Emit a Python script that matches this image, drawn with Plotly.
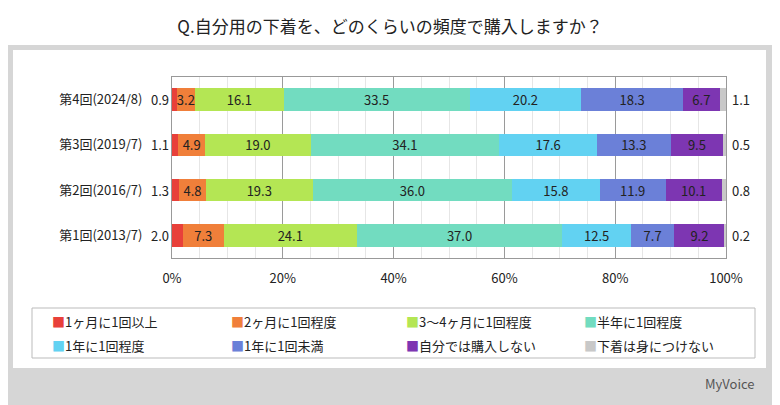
import plotly.graph_objects as go

rounds = ["第1回(2013/7)", "第2回(2016/7)", "第3回(2019/7)", "第4回(2024/8)"]
cats = ["1ヶ月に1回以上", "2ヶ月に1回程度", "3～4ヶ月に1回程度", "半年に1回程度",
        "1年に1回程度", "1年に1回未満", "自分では購入しない", "下着は身につけない"]
vals = [
    [2.0, 1.3, 1.1, 0.9],
    [7.3, 4.8, 4.9, 3.2],
    [24.1, 19.3, 19.0, 16.1],
    [37.0, 36.0, 34.1, 33.5],
    [12.5, 15.8, 17.6, 20.2],
    [7.7, 11.9, 13.3, 18.3],
    [9.2, 10.1, 9.5, 6.7],
    [0.2, 0.8, 0.5, 1.1],
]
colors = ["#e8403a", "#f07f3a", "#b4e654", "#72dcc0", "#62d2f2", "#6b80d8", "#7d36b2", "#c8c8c8"]

OFF = 8  # page body margin
W, H = 780, 405
L, T = 172 - OFF, 77 - OFF
R = W - (726 - OFF)
B = H - (258 - OFF)
PW, PH = W - L - R, H - T - B
def px(p): return (p - OFF - L) / PW
def py(q): return (H - B - (q - OFF)) / PH

fig = go.Figure()
for i, (c, v, col) in enumerate(zip(cats, vals, colors)):
    inside = 0 < i < 7
    fig.add_trace(go.Bar(
        y=rounds, x=v, name=c, orientation="h", marker=dict(color=col, line=dict(width=0)),
        text=[f"{x:.1f}" for x in v] if inside else None,
        textposition="inside", insidetextanchor="middle", textangle=0,
        textfont=dict(color="#222", size=13), constraintext="none",
        hoverinfo="skip", showlegend=False,
    ))
for r, x in zip(rounds, vals[0]):
    fig.add_annotation(x=0, y=r, text=f"{x:.1f}", xanchor="right", showarrow=False,
                       xshift=-1, font=dict(size=13, color="#222"))
for r, x in zip(rounds, vals[7]):
    fig.add_annotation(x=100, y=r, text=f"{x:.1f}", xanchor="left", showarrow=False,
                       xshift=4, font=dict(size=13, color="#222"))

lx = [50, 229, 404, 582]
ly = [321, 345]
for i, (c, col) in enumerate(zip(cats, colors)):
    fig.add_annotation(xref="paper", yref="paper", x=px(lx[i % 4]), y=py(ly[i // 4]),
                       text=f"<span style='color:{col}'>■</span>{c}", showarrow=False,
                       xanchor="left", yanchor="middle", font=dict(size=13, color="#222"))

fig.add_annotation(xref="paper", yref="paper", x=px(757), y=py(383), text="MyVoice", showarrow=False,
                   xanchor="right", yanchor="middle", font=dict(size=13, color="#555"))

fig.update_layout(
    width=W, height=H, barmode="stack", bargap=0.5,
    margin=dict(l=L, r=R, t=T, b=B, autoexpand=False),
    paper_bgcolor="#d6d6d6", plot_bgcolor="white",
    font=dict(family="Noto Sans CJK JP", size=13, color="#222"),
    showlegend=False,
    xaxis=dict(range=[0, 100], dtick=20, ticksuffix="%", showgrid=True, gridcolor="#9a9a9a",
               minor=dict(dtick=5, showgrid=True, gridcolor="#e6e6e6"),
               zeroline=False, showline=True, linecolor="#999", mirror=True,
               tickfont=dict(size=13), ticklabelstandoff=8, automargin=False),
    yaxis=dict(showline=True, linecolor="#999", mirror=True, ticklabelstandoff=26,
               tickfont=dict(size=13), automargin=False),
    title=dict(text="Q.自分用の下着を、どのくらいの頻度で購入しますか？", x=px(390), xref="paper",
               xanchor="center", y=1 - (27 - OFF) / H, yanchor="middle",
               font=dict(size=17, color="#222"), automargin=False),
    shapes=[
        dict(type="rect", xref="paper", yref="paper", x0=px(8), x1=px(772), y0=py(45), y1=py(7),
             fillcolor="white", line=dict(width=0), layer="below"),
        dict(type="rect", xref="paper", yref="paper", x0=px(13), x1=px(766), y0=py(368), y1=py(50),
             fillcolor="white", line=dict(width=0), layer="below"),
        dict(type="rect", xref="paper", yref="paper", x0=px(32), x1=px(755), y0=py(358), y1=py(308),
             fillcolor="white", line=dict(color="#bbb", width=1), layer="below"),
    ],
)
fig.write_html("out.html")
